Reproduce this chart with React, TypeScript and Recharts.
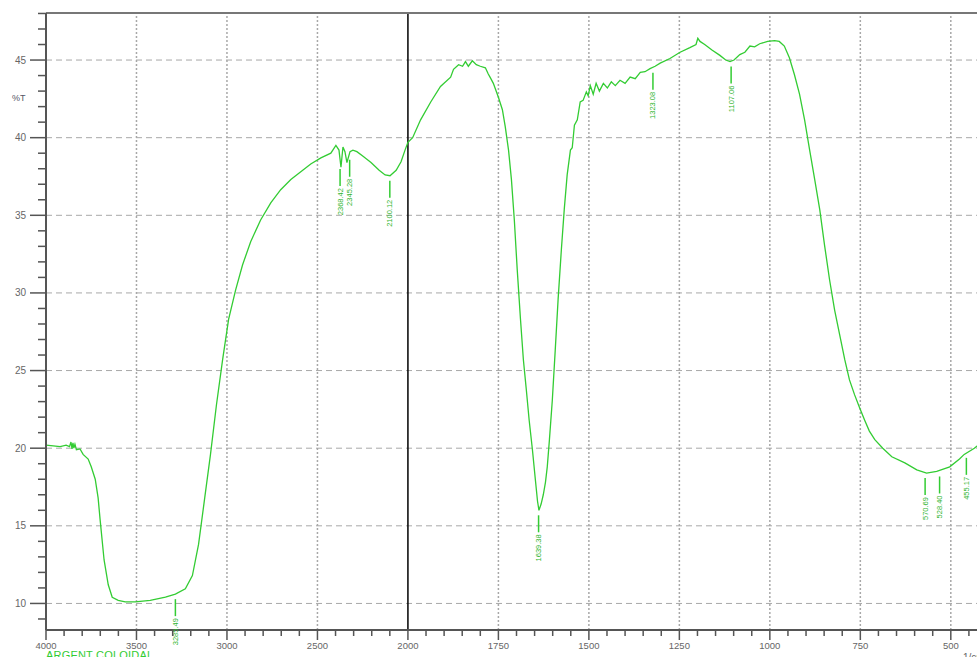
import React from "react";
import { LineChart, Line, XAxis, YAxis, ReferenceLine, ReferenceDot } from "recharts";

// spectrum (wavenumber in cm-1, transmittance in %T)
const wavenumbers = [
  4000, 3960, 3922, 3889, 3870, 3862, 3856, 3851, 3846, 3840, 3832, 3812, 3795, 3767, 3750, 3728,
  3712, 3701, 3679, 3656, 3634, 3601, 3562, 3507, 3424, 3340, 3285, 3230, 3191, 3157, 3124, 3091,
  3058, 3024, 2991, 2952, 2914, 2869, 2814, 2758, 2703, 2647, 2592, 2537, 2481, 2426, 2398, 2381,
  2370, 2359, 2348, 2337, 2320, 2304, 2282, 2248, 2204, 2159, 2126, 2099, 2065, 2038, 2016, 2000,
  1987, 1965, 1937, 1910, 1882, 1874, 1860, 1849, 1841, 1833, 1822, 1811, 1800, 1786, 1778, 1772,
  1764, 1750, 1739, 1731, 1722, 1714, 1706, 1698, 1689, 1681, 1673, 1665, 1656, 1648, 1642, 1638,
  1632, 1626, 1620, 1615, 1609, 1601, 1593, 1585, 1576, 1568, 1560, 1551, 1546, 1540, 1532, 1524,
  1516, 1507, 1502, 1496, 1488, 1480, 1471, 1460, 1449, 1438, 1427, 1414, 1400, 1386, 1372, 1358,
  1345, 1331, 1317, 1303, 1276, 1248, 1221, 1204, 1199, 1193, 1180, 1160, 1138, 1122, 1110, 1099,
  1083, 1069, 1055, 1042, 1028, 1006, 987, 974, 960, 946, 932, 918, 904, 890, 876, 862,
  849, 835, 821, 807, 793, 780, 766, 752, 738, 725, 710, 688, 663, 627, 594, 567,
  539, 503, 476, 463, 435, 408, 400,
];
const transmittance = [
  20.2, 20.15, 20.1, 20.2, 20.1, 20.4, 19.95, 20.35, 20.0, 20.25, 19.9, 19.95, 19.6, 19.3, 18.8, 18.0,
  16.8, 15.4, 12.8, 11.2, 10.4, 10.2, 10.1, 10.1, 10.2, 10.4, 10.6, 10.95, 11.8, 13.8, 16.7, 19.6,
  22.8, 25.7, 28.3, 30.2, 31.8, 33.3, 34.7, 35.8, 36.65, 37.3, 37.8, 38.3, 38.7, 39.0, 39.5, 39.2,
  38.1, 39.4, 39.1, 38.4, 39.1, 39.2, 39.1, 38.8, 38.4, 37.9, 37.6, 37.55, 37.9, 38.45, 39.2, 39.7,
  40.0, 41.15, 42.3, 43.3, 43.9, 44.4, 44.7, 44.6, 44.9, 44.6, 44.95, 44.7, 44.6, 44.5, 44.1, 43.85,
  43.5, 42.6, 41.8, 40.7, 39.2, 37.3, 34.7, 31.5, 28.3, 25.7, 23.8, 21.8, 19.9, 18.0, 16.6, 16.0,
  16.4, 17.0, 17.8, 18.8, 20.55, 23.1, 26.3, 29.6, 32.8, 35.4, 37.6, 39.2, 39.35, 40.8, 41.15, 42.3,
  42.4, 42.95, 42.7, 43.35, 42.8, 43.5, 43.0, 43.5, 43.2, 43.6, 43.35, 43.7, 43.5, 43.9, 43.8, 44.2,
  44.25, 44.45, 44.6, 44.8, 45.1, 45.5, 45.8, 46.0, 46.4, 46.2, 46.0, 45.65, 45.3, 45.0, 44.9, 45.0,
  45.35, 45.5, 45.9, 45.85, 46.05, 46.2, 46.25, 46.2, 45.9, 45.15, 44.05, 42.8, 41.15, 39.2, 37.3, 35.35,
  33.1, 30.85, 28.9, 27.3, 25.7, 24.4, 23.45, 22.6, 21.8, 21.1, 20.55, 20.0, 19.45, 19.05, 18.6, 18.4,
  18.5, 18.8, 19.3, 19.6, 20.0, 20.5, 20.6,
];

// picked peaks: wavenumber where the marker sits, %T at the curve, printed label
const peakWavenumbers = [3285, 2375, 2322, 2100, 1639, 1323, 1107, 571, 531, 457];
const peakTransmittance = [10.6, 38.3, 38.9, 37.55, 16.0, 44.5, 44.9, 18.4, 18.5, 19.7];
const peakLabels = ["3285.49", "2368.42", "2345.28", "2100.12", "1639.38", "1323.08", "1107.06", "570.69", "528.40", "455.17"];

const xMajorLabels = [4000, 3500, 3000, 2500, 2000, 1750, 1500, 1250, 1000, 750, 500];
const yMajorLabels = [10, 15, 20, 25, 30, 35, 40, 45];

const Y_MIN = 8.29;
const Y_MAX = 48.03;
const X_END = 400;

// the instrument halves the scale below 2000 cm-1
const toPos = (wn: number) => (wn >= 2000 ? (4000 - wn) / 500 : 4 + (2000 - wn) / 250);
const fromPos = (p: number) => (p <= 4 ? 4000 - p * 500 : 2000 - (p - 4) * 250);

const GREEN = "#33cc33";
const AXIS = "#555";
const GRID = "#a8a8a8";

const data = wavenumbers.map((wn, i) => ({ pos: toPos(wn), t: transmittance[i] }));

const xMinorTicks: number[] = [];
for (let wn = 4000; wn > 2000; wn -= 100) xMinorTicks.push(toPos(wn));
for (let wn = 2000; wn >= X_END; wn -= 50) xMinorTicks.push(toPos(wn));
const xMajorPos = xMajorLabels.map(toPos);

const yTicks: number[] = [];
for (let v = 9; v <= 48; v++) yTicks.push(v);

const isMajorX = (p: number) => xMajorPos.some((m) => Math.abs(m - p) < 1e-6);

function XTick({ x, y, payload }: any) {
  const major = isMajorX(payload.value);
  return (
    <g>
      <line x1={x} x2={x} y1={y} y2={y + (major ? 10 : 6)} stroke={AXIS} strokeWidth={1.5} />
      {major && (
        <text x={x} y={y + 19} textAnchor="middle" fontSize={9.5} fill="#666">
          {Math.round(fromPos(payload.value))}
        </text>
      )}
    </g>
  );
}

function YTick({ x, y, payload }: any) {
  const major = yMajorLabels.includes(payload.value);
  return (
    <g>
      <line x1={x - (major ? 16 : 8)} x2={x} y1={y} y2={y} stroke={AXIS} strokeWidth={1.5} />
      {major && (
        <text x={x - 20} y={y + 3.5} textAnchor="end" fontSize={10} fill="#666">
          {payload.value}
        </text>
      )}
    </g>
  );
}

function peakShape(label: string) {
  return (props: any) => {
    const { cx, cy } = props;
    return (
      <g>
        <line x1={cx} x2={cx} y1={cy + 5} y2={cy + 22} stroke={GREEN} strokeWidth={1.5} />
        <text
          transform={`translate(${cx + 2.5},${cy + 24}) rotate(-90)`}
          textAnchor="end"
          fontSize={7.5}
          fill="#2fb52f"
        >
          {label}
        </text>
      </g>
    );
  };
}

export default function App() {
  return (
    <div
      style={{
        position: "fixed",
        left: 0,
        top: 0,
        width: 977,
        height: 657,
        overflow: "hidden",
        background: "#fff",
        fontFamily: "'Liberation Sans', Arial, sans-serif",
      }}
    >
      <LineChart width={1000} height={657} data={data} margin={{ top: 13, right: 13, bottom: 0, left: 0 }}>
        {yMajorLabels.map((v) => (
          <ReferenceLine key={"h" + v} y={v} stroke={GRID} strokeDasharray="6 4" />
        ))}
        {xMajorPos
          .filter((p) => p > 0 && p !== 4)
          .map((p) => (
            <ReferenceLine key={"v" + p} x={p} stroke={GRID} strokeWidth={1.5} strokeDasharray="2 2" />
          ))}
        <ReferenceLine x={4} stroke="#000" strokeWidth={1.5} />
        <ReferenceLine y={Y_MAX} stroke="#777" strokeWidth={2} />
        <XAxis
          type="number"
          dataKey="pos"
          domain={[0, toPos(X_END)]}
          ticks={xMinorTicks}
          interval={0}
          allowDataOverflow
          height={27}
          tickSize={0}
          tickMargin={0}
          tickLine={false}
          axisLine={{ stroke: AXIS, strokeWidth: 2 }}
          tick={<XTick />}
        />
        <YAxis
          type="number"
          domain={[Y_MIN, Y_MAX]}
          ticks={yTicks}
          interval={0}
          allowDataOverflow
          width={46}
          tickSize={0}
          tickMargin={0}
          tickLine={false}
          axisLine={{ stroke: AXIS, strokeWidth: 2 }}
          tick={<YTick />}
        />
        <Line
          type="linear"
          dataKey="t"
          stroke={GREEN}
          strokeWidth={1.3}
          dot={false}
          isAnimationActive={false}
        />
        {peakWavenumbers.map((wn, i) => (
          <ReferenceDot
            key={"p" + wn}
            x={toPos(wn)}
            y={peakTransmittance[i]}
            r={0}
            shape={peakShape(peakLabels[i])}
          />
        ))}
      </LineChart>
      <div style={{ position: "absolute", left: 12, top: 93, fontSize: 9, color: "#556" }}>%T</div>
      <div style={{ position: "absolute", left: 46, top: 649, fontSize: 11, lineHeight: "12px", color: GREEN, letterSpacing: 0.2 }}>
        ARGENT COLOIDAL
      </div>
      <div style={{ position: "absolute", left: 963, top: 652, fontSize: 10, lineHeight: "11px", color: "#666" }}>1/cm</div>
    </div>
  );
}
